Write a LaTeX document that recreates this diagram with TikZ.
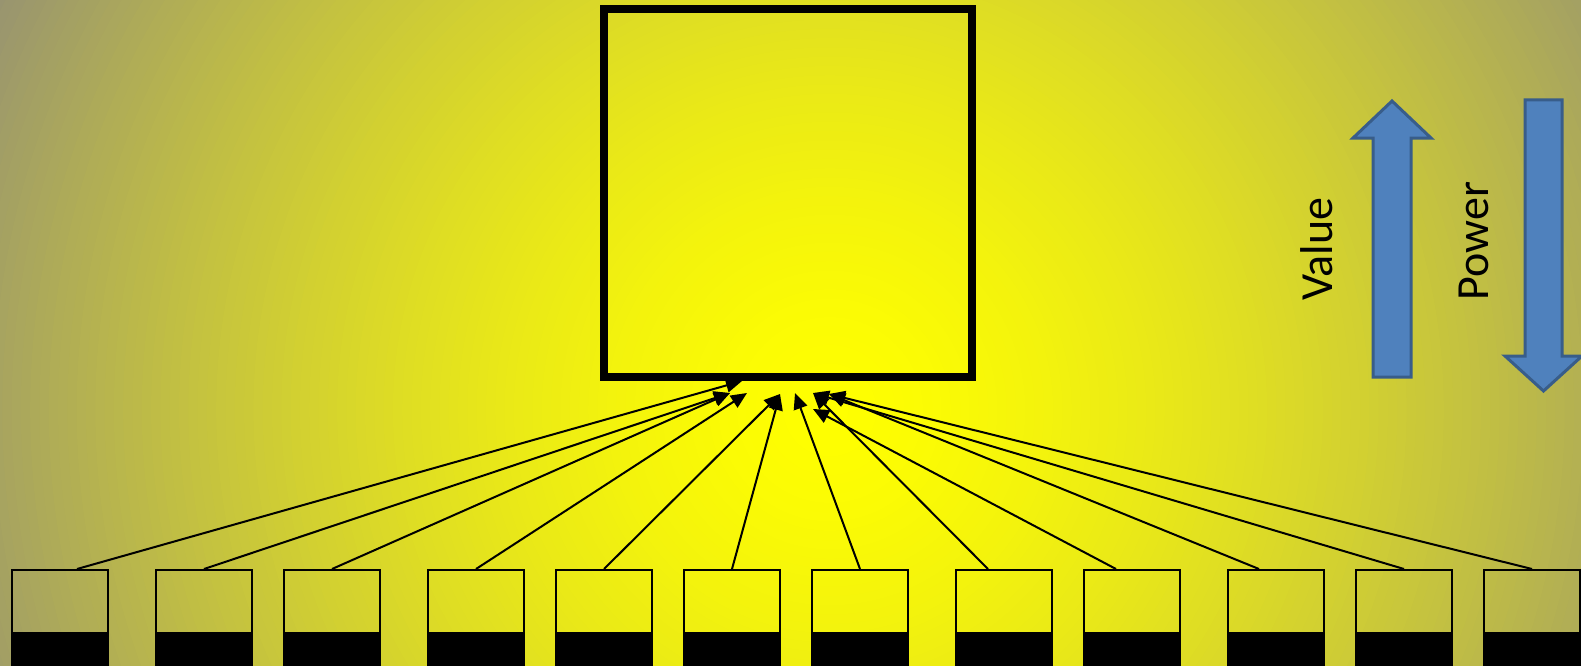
\documentclass[tikz,border=0pt]{standalone}
\usepackage{fontspec}
\newfontfamily\labelfont{Carlito}
\usetikzlibrary{arrows.meta,calc}
\definecolor{ycenter}{RGB}{255,255,0}
\definecolor{gedge}{RGB}{152,148,112}
\definecolor{blockfill}{RGB}{79,129,189}
\definecolor{blockline}{RGB}{56,93,138}
\begin{document}
\begin{tikzpicture}[x=1pt,y=-1pt,
  bigbox/.style={draw=black, line width=8pt, minimum width=368pt, minimum height=368pt, inner sep=0pt},
  smallbox/.style={draw=black, line width=2pt, minimum width=96pt, minimum height=130pt, inner sep=0pt, anchor=north},
  feed/.style={line width=2pt, -{Triangle[length=16pt,width=14pt]}},
  blockarrow/.style={fill=blockfill, draw=blockline, line width=3pt, line join=miter},
  sidelabel/.style={font=\labelfont\fontsize{46}{50}\selectfont, rotate=90, anchor=base, inner sep=0pt}
]
\useasboundingbox (0,0) rectangle (1581,666);
\clip (0,0) rectangle (1581,666);
\fill[gedge] (0,0) rectangle (1581,666);
\foreach \k in {0,...,99}{
  \pgfmathsetmacro\rr{930*(1-\k/100)}
  \pgfmathsetmacro\pp{100*(1-(1-\k/100)^1.5)}
  \fill[ycenter!\pp!gedge] (830,410) circle [radius=\rr pt];
}

% small boxes
\foreach \i/\cx in {1/60,2/204,3/332,4/476,5/604,6/732,7/860,8/1004,9/1132,10/1276,11/1404,12/1532}{
  \node[smallbox] (b\i) at (\cx,569) {};
  \fill[black] (b\i.south west) rectangle ($(b\i.north east)+(0,63)$);
}

% targets under the big square
\coordinate (tA) at (742,381);
\coordinate (tB) at (730,393);
\coordinate (tC) at (747,393);
\coordinate (tD) at (780,394);
\coordinate (tE) at (795,393);
\coordinate (tF) at (813,393);
\coordinate (tG) at (813,409);
\coordinate (tH) at (829,394);

\draw[feed] ([xshift=17pt]b1.north) -- (tA);
\draw[feed] (b2.north) -- (tB);
\draw[feed] (b3.north) -- (tB);
\draw[feed] (b4.north) -- (tC);
\draw[feed] (b5.north) -- (tD);
\draw[feed] (b6.north) -- (tD);
\draw[feed] (b7.north) -- (tE);
\draw[feed] ([xshift=-16pt]b8.north) -- (tF);
\draw[feed] ([xshift=-16pt]b9.north) -- (tG);
\draw[feed] ([xshift=-17pt]b10.north) -- (tH);
\draw[feed] (b11.north) -- (tF);
\draw[feed] (b12.north) -- (tH);

% big square
\node[bigbox] (big) at (788,193) {};

% block arrows
\draw[blockarrow] (1373,377) -- (1373,138) -- (1353,138) -- (1392,101) -- (1431,138) -- (1411,138) -- (1411,377) -- cycle;
\draw[blockarrow] (1525,100) -- (1562,100) -- (1562,356) -- (1582,356) -- (1543.5,391) -- (1505,356) -- (1525,356) -- cycle;

\node[sidelabel] (value) at (1332,249) {Value};
\node[sidelabel] (power) at (1488,241) {Power};
\end{tikzpicture}
\end{document}
